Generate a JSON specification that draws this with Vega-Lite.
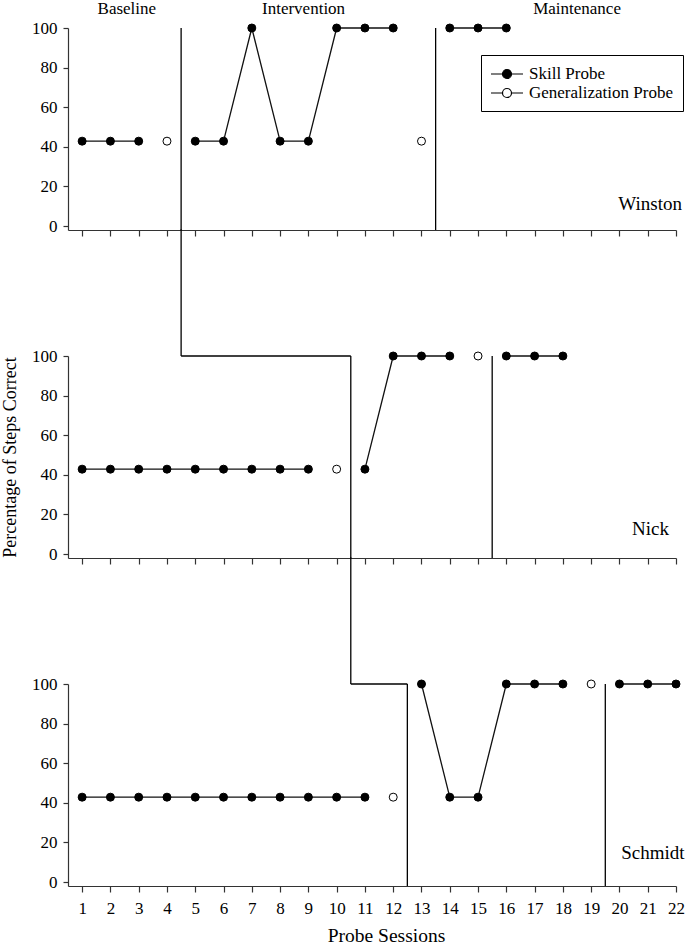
{
  "$schema": "https://vega.github.io/schema/vega-lite/v6.json",
  "background": "white",
  "padding": {"left": 1, "top": 0, "right": 0, "bottom": 2},
  "bounds": "flush",
  "spacing": 126,
  "config": {
    "font": "Liberation Serif",
    "view": {"stroke": null},
    "axis": {
      "grid": false,
      "domainColor": "#333333",
      "tickColor": "#333333",
      "domainWidth": 1.2,
      "tickWidth": 1.2,
      "labelColor": "black",
      "titleColor": "black",
      "labelFont": "Liberation Serif",
      "titleFont": "Liberation Serif",
      "labelFontSize": 17,
      "titleFontSize": 18,
      "titleFontWeight": "normal"
    },
    "axisX": {"labelOverlap": false, "labelFlush": false},
    "text": {"font": "Liberation Serif", "color": "black"}
  },
  "resolve": {"scale": {"fill": "independent"}, "legend": {"fill": "independent"}},
  "datasets": {
    "winston": [
      {"session": 1, "pct": 42.86, "type": "Skill Probe", "phase": "Baseline"},
      {"session": 2, "pct": 42.86, "type": "Skill Probe", "phase": "Baseline"},
      {"session": 3, "pct": 42.86, "type": "Skill Probe", "phase": "Baseline"},
      {"session": 4, "pct": 42.86, "type": "Generalization Probe", "phase": "Baseline"},
      {"session": 5, "pct": 42.86, "type": "Skill Probe", "phase": "Intervention"},
      {"session": 6, "pct": 42.86, "type": "Skill Probe", "phase": "Intervention"},
      {"session": 7, "pct": 100, "type": "Skill Probe", "phase": "Intervention"},
      {"session": 8, "pct": 42.86, "type": "Skill Probe", "phase": "Intervention"},
      {"session": 9, "pct": 42.86, "type": "Skill Probe", "phase": "Intervention"},
      {"session": 10, "pct": 100, "type": "Skill Probe", "phase": "Intervention"},
      {"session": 11, "pct": 100, "type": "Skill Probe", "phase": "Intervention"},
      {"session": 12, "pct": 100, "type": "Skill Probe", "phase": "Intervention"},
      {"session": 13, "pct": 42.86, "type": "Generalization Probe", "phase": "Intervention"},
      {"session": 14, "pct": 100, "type": "Skill Probe", "phase": "Maintenance"},
      {"session": 15, "pct": 100, "type": "Skill Probe", "phase": "Maintenance"},
      {"session": 16, "pct": 100, "type": "Skill Probe", "phase": "Maintenance"}
    ],
    "nick": [
      {"session": 1, "pct": 42.86, "type": "Skill Probe", "phase": "Baseline"},
      {"session": 2, "pct": 42.86, "type": "Skill Probe", "phase": "Baseline"},
      {"session": 3, "pct": 42.86, "type": "Skill Probe", "phase": "Baseline"},
      {"session": 4, "pct": 42.86, "type": "Skill Probe", "phase": "Baseline"},
      {"session": 5, "pct": 42.86, "type": "Skill Probe", "phase": "Baseline"},
      {"session": 6, "pct": 42.86, "type": "Skill Probe", "phase": "Baseline"},
      {"session": 7, "pct": 42.86, "type": "Skill Probe", "phase": "Baseline"},
      {"session": 8, "pct": 42.86, "type": "Skill Probe", "phase": "Baseline"},
      {"session": 9, "pct": 42.86, "type": "Skill Probe", "phase": "Baseline"},
      {"session": 10, "pct": 42.86, "type": "Generalization Probe", "phase": "Baseline"},
      {"session": 11, "pct": 42.86, "type": "Skill Probe", "phase": "Intervention"},
      {"session": 12, "pct": 100, "type": "Skill Probe", "phase": "Intervention"},
      {"session": 13, "pct": 100, "type": "Skill Probe", "phase": "Intervention"},
      {"session": 14, "pct": 100, "type": "Skill Probe", "phase": "Intervention"},
      {"session": 15, "pct": 100, "type": "Generalization Probe", "phase": "Intervention"},
      {"session": 16, "pct": 100, "type": "Skill Probe", "phase": "Maintenance"},
      {"session": 17, "pct": 100, "type": "Skill Probe", "phase": "Maintenance"},
      {"session": 18, "pct": 100, "type": "Skill Probe", "phase": "Maintenance"}
    ],
    "schmidt": [
      {"session": 1, "pct": 42.86, "type": "Skill Probe", "phase": "Baseline"},
      {"session": 2, "pct": 42.86, "type": "Skill Probe", "phase": "Baseline"},
      {"session": 3, "pct": 42.86, "type": "Skill Probe", "phase": "Baseline"},
      {"session": 4, "pct": 42.86, "type": "Skill Probe", "phase": "Baseline"},
      {"session": 5, "pct": 42.86, "type": "Skill Probe", "phase": "Baseline"},
      {"session": 6, "pct": 42.86, "type": "Skill Probe", "phase": "Baseline"},
      {"session": 7, "pct": 42.86, "type": "Skill Probe", "phase": "Baseline"},
      {"session": 8, "pct": 42.86, "type": "Skill Probe", "phase": "Baseline"},
      {"session": 9, "pct": 42.86, "type": "Skill Probe", "phase": "Baseline"},
      {"session": 10, "pct": 42.86, "type": "Skill Probe", "phase": "Baseline"},
      {"session": 11, "pct": 42.86, "type": "Skill Probe", "phase": "Baseline"},
      {"session": 12, "pct": 42.86, "type": "Generalization Probe", "phase": "Baseline"},
      {"session": 13, "pct": 100, "type": "Skill Probe", "phase": "Intervention"},
      {"session": 14, "pct": 42.86, "type": "Skill Probe", "phase": "Intervention"},
      {"session": 15, "pct": 42.86, "type": "Skill Probe", "phase": "Intervention"},
      {"session": 16, "pct": 100, "type": "Skill Probe", "phase": "Intervention"},
      {"session": 17, "pct": 100, "type": "Skill Probe", "phase": "Intervention"},
      {"session": 18, "pct": 100, "type": "Skill Probe", "phase": "Intervention"},
      {"session": 19, "pct": 100, "type": "Generalization Probe", "phase": "Intervention"},
      {"session": 20, "pct": 100, "type": "Skill Probe", "phase": "Maintenance"},
      {"session": 21, "pct": 100, "type": "Skill Probe", "phase": "Maintenance"},
      {"session": 22, "pct": 100, "type": "Skill Probe", "phase": "Maintenance"}
    ],
    "phase_lines": [
      {"panel": "Winston", "session": 4.5, "session2": 4.5, "pct": 100, "pct2": -2},
      {"panel": "Winston", "session": 13.5, "session2": 13.5, "pct": 100, "pct2": -2},
      {"panel": "Nick", "session": 4.5, "session2": 4.5, "pct": 164, "pct2": 100},
      {"panel": "Nick", "session": 4.5, "session2": 10.5, "pct": 100, "pct2": 100},
      {"panel": "Nick", "session": 10.5, "session2": 10.5, "pct": 100, "pct2": -2},
      {"panel": "Nick", "session": 15.5, "session2": 15.5, "pct": 100, "pct2": -2},
      {"panel": "Schmidt", "session": 10.5, "session2": 10.5, "pct": 164, "pct2": 100},
      {"panel": "Schmidt", "session": 10.5, "session2": 12.5, "pct": 100, "pct2": 100},
      {"panel": "Schmidt", "session": 12.5, "session2": 12.5, "pct": 100, "pct2": -2},
      {"panel": "Schmidt", "session": 19.5, "session2": 19.5, "pct": 100, "pct2": -2}
    ]
  },
  "vconcat": [
    {
      "width": 608,
      "height": 202,
      "layer": [
        {
          "data": {"name": "phase_lines"},
          "transform": [{"filter": "datum.panel === 'Winston'"}],
          "mark": {"type": "rule", "clip": false, "color": "black", "strokeWidth": 1.3},
          "encoding": {
            "x": {"field": "session", "type": "quantitative", "scale": {"domain": [0.5, 22], "nice": false, "zero": false},
                  "axis": {"values": [1,2,3,4,5,6,7,8,9,10,11,12,13,14,15,16,17,18,19,20,21,22], "labels": false, "title": null, "tickSize": 6}},
            "y": {"field": "pct", "type": "quantitative", "scale": {"domain": [-2, 100], "nice": false, "zero": false},
                  "axis": {"values": [0,20,40,60,80,100], "tickSize": 5, "labelPadding": 6, "title": null}},
            "x2": {"field": "session2"},
            "y2": {"field": "pct2"}
          }
        },
        {
          "data": {"name": "winston"},
          "transform": [{"filter": "datum.type === 'Skill Probe'"}],
          "mark": {"type": "line", "color": "#111111", "strokeWidth": 1.3},
          "encoding": {
            "x": {"field": "session", "type": "quantitative", "scale": {"domain": [0.5, 22], "nice": false, "zero": false},
                  "axis": {"values": [1,2,3,4,5,6,7,8,9,10,11,12,13,14,15,16,17,18,19,20,21,22], "labels": false, "title": null, "tickSize": 6}},
            "y": {"field": "pct", "type": "quantitative", "scale": {"domain": [-2, 100], "nice": false, "zero": false},
                  "axis": {"values": [0,20,40,60,80,100], "tickSize": 5, "labelPadding": 6, "title": null}},
            "detail": {"field": "phase"}
          }
        },
        {
          "data": {"name": "winston"},
          "mark": {"type": "circle", "size": 64, "stroke": "black", "strokeWidth": 1, "opacity": 1},
          "encoding": {
            "x": {"field": "session", "type": "quantitative", "scale": {"domain": [0.5, 22], "nice": false, "zero": false},
                  "axis": {"values": [1,2,3,4,5,6,7,8,9,10,11,12,13,14,15,16,17,18,19,20,21,22], "labels": false, "title": null, "tickSize": 6}},
            "y": {"field": "pct", "type": "quantitative", "scale": {"domain": [-2, 100], "nice": false, "zero": false},
                  "axis": {"values": [0,20,40,60,80,100], "tickSize": 5, "labelPadding": 6, "title": null}},
            "fill": {"field": "type", "type": "nominal",
                     "scale": {"domain": ["Skill Probe", "Generalization Probe"], "range": ["black", "white"]},
                     "legend": {"title": null, "orient": "none", "legendX": 413, "legendY": 27,
                                "symbolType": "M-2,0H-0.5625M0.5625,0H2M0.5625,0A0.5625,0.5625,0,1,1,-0.5625,0A0.5625,0.5625,0,1,1,0.5625,0Z",
                                "symbolSize": 256, "symbolStrokeColor": "black", "symbolStrokeWidth": 1.2,
                                "symbolOffset": 7,
                                "labelFontSize": 17, "labelFont": "Liberation Serif", "labelColor": "black",
                                "strokeColor": "black", "fillColor": "white", "padding": 10, "labelOffset": 13, "rowPadding": 2}}
          }
        },
        {
          "data": {"values": [{}]},
          "mark": {"type": "text", "text": "Baseline", "fontSize": 17, "align": "center", "baseline": "alphabetic", "clip": false},
          "encoding": {
            "x": {"datum": 2.58, "type": "quantitative", "scale": {"domain": [0.5, 22], "nice": false, "zero": false},
                  "axis": {"values": [1,2,3,4,5,6,7,8,9,10,11,12,13,14,15,16,17,18,19,20,21,22], "labels": false, "title": null, "tickSize": 6}},
            "y": {"datum": 107, "type": "quantitative", "scale": {"domain": [-2, 100], "nice": false, "zero": false},
                  "axis": {"values": [0,20,40,60,80,100], "tickSize": 5, "labelPadding": 6, "title": null}}
          }
        },
        {
          "data": {"values": [{}]},
          "mark": {"type": "text", "text": "Intervention", "fontSize": 17, "align": "center", "baseline": "alphabetic", "clip": false},
          "encoding": {
            "x": {"datum": 8.83, "type": "quantitative", "scale": {"domain": [0.5, 22], "nice": false, "zero": false},
                  "axis": {"values": [1,2,3,4,5,6,7,8,9,10,11,12,13,14,15,16,17,18,19,20,21,22], "labels": false, "title": null, "tickSize": 6}},
            "y": {"datum": 107, "type": "quantitative", "scale": {"domain": [-2, 100], "nice": false, "zero": false},
                  "axis": {"values": [0,20,40,60,80,100], "tickSize": 5, "labelPadding": 6, "title": null}}
          }
        },
        {
          "data": {"values": [{}]},
          "mark": {"type": "text", "text": "Maintenance", "fontSize": 17, "align": "center", "baseline": "alphabetic", "clip": false},
          "encoding": {
            "x": {"datum": 18.5, "type": "quantitative", "scale": {"domain": [0.5, 22], "nice": false, "zero": false},
                  "axis": {"values": [1,2,3,4,5,6,7,8,9,10,11,12,13,14,15,16,17,18,19,20,21,22], "labels": false, "title": null, "tickSize": 6}},
            "y": {"datum": 107, "type": "quantitative", "scale": {"domain": [-2, 100], "nice": false, "zero": false},
                  "axis": {"values": [0,20,40,60,80,100], "tickSize": 5, "labelPadding": 6, "title": null}}
          }
        },
        {
          "data": {"values": [{}]},
          "mark": {"type": "text", "text": "Winston", "fontSize": 19, "align": "right", "baseline": "alphabetic", "clip": false},
          "encoding": {
            "x": {"datum": 22.21, "type": "quantitative", "scale": {"domain": [0.5, 22], "nice": false, "zero": false},
                  "axis": {"values": [1,2,3,4,5,6,7,8,9,10,11,12,13,14,15,16,17,18,19,20,21,22], "labels": false, "title": null, "tickSize": 6}},
            "y": {"datum": 8.1, "type": "quantitative", "scale": {"domain": [-2, 100], "nice": false, "zero": false},
                  "axis": {"values": [0,20,40,60,80,100], "tickSize": 5, "labelPadding": 6, "title": null}}
          }
        }
      ]
    },
    {
      "width": 608,
      "height": 202,
      "layer": [
        {
          "data": {"name": "phase_lines"},
          "transform": [{"filter": "datum.panel === 'Nick'"}],
          "mark": {"type": "rule", "clip": false, "color": "black", "strokeWidth": 1.3},
          "encoding": {
            "x": {"field": "session", "type": "quantitative", "scale": {"domain": [0.5, 22], "nice": false, "zero": false},
                  "axis": {"values": [1,2,3,4,5,6,7,8,9,10,11,12,13,14,15,16,17,18,19,20,21,22], "labels": false, "title": null, "tickSize": 6}},
            "y": {"field": "pct", "type": "quantitative", "scale": {"domain": [-2, 100], "nice": false, "zero": false},
                  "axis": {"values": [0,20,40,60,80,100], "tickSize": 5, "labelPadding": 6, "title": "Percentage of Steps Correct", "titlePadding": 12}},
            "x2": {"field": "session2"},
            "y2": {"field": "pct2"}
          }
        },
        {
          "data": {"name": "nick"},
          "transform": [{"filter": "datum.type === 'Skill Probe'"}],
          "mark": {"type": "line", "color": "#111111", "strokeWidth": 1.3},
          "encoding": {
            "x": {"field": "session", "type": "quantitative", "scale": {"domain": [0.5, 22], "nice": false, "zero": false},
                  "axis": {"values": [1,2,3,4,5,6,7,8,9,10,11,12,13,14,15,16,17,18,19,20,21,22], "labels": false, "title": null, "tickSize": 6}},
            "y": {"field": "pct", "type": "quantitative", "scale": {"domain": [-2, 100], "nice": false, "zero": false},
                  "axis": {"values": [0,20,40,60,80,100], "tickSize": 5, "labelPadding": 6, "title": "Percentage of Steps Correct", "titlePadding": 12}},
            "detail": {"field": "phase"}
          }
        },
        {
          "data": {"name": "nick"},
          "mark": {"type": "circle", "size": 64, "stroke": "black", "strokeWidth": 1, "opacity": 1},
          "encoding": {
            "x": {"field": "session", "type": "quantitative", "scale": {"domain": [0.5, 22], "nice": false, "zero": false},
                  "axis": {"values": [1,2,3,4,5,6,7,8,9,10,11,12,13,14,15,16,17,18,19,20,21,22], "labels": false, "title": null, "tickSize": 6}},
            "y": {"field": "pct", "type": "quantitative", "scale": {"domain": [-2, 100], "nice": false, "zero": false},
                  "axis": {"values": [0,20,40,60,80,100], "tickSize": 5, "labelPadding": 6, "title": "Percentage of Steps Correct", "titlePadding": 12}},
            "fill": {"field": "type", "type": "nominal",
                     "scale": {"domain": ["Skill Probe", "Generalization Probe"], "range": ["black", "white"]},
                     "legend": null}
          }
        },
        {
          "data": {"values": [{}]},
          "mark": {"type": "text", "text": "Nick", "fontSize": 19, "align": "right", "baseline": "alphabetic", "clip": false},
          "encoding": {
            "x": {"datum": 21.75, "type": "quantitative", "scale": {"domain": [0.5, 22], "nice": false, "zero": false},
                  "axis": {"values": [1,2,3,4,5,6,7,8,9,10,11,12,13,14,15,16,17,18,19,20,21,22], "labels": false, "title": null, "tickSize": 6}},
            "y": {"datum": 9.6, "type": "quantitative", "scale": {"domain": [-2, 100], "nice": false, "zero": false},
                  "axis": {"values": [0,20,40,60,80,100], "tickSize": 5, "labelPadding": 6, "title": "Percentage of Steps Correct", "titlePadding": 12}}
          }
        }
      ]
    },
    {
      "width": 608,
      "height": 202,
      "layer": [
        {
          "data": {"name": "phase_lines"},
          "transform": [{"filter": "datum.panel === 'Schmidt'"}],
          "mark": {"type": "rule", "clip": false, "color": "black", "strokeWidth": 1.3},
          "encoding": {
            "x": {"field": "session", "type": "quantitative", "scale": {"domain": [0.5, 22], "nice": false, "zero": false},
                  "axis": {"values": [1,2,3,4,5,6,7,8,9,10,11,12,13,14,15,16,17,18,19,20,21,22], "labels": true, "labelPadding": 8, "labelFlush": false, "labelOverlap": false, "title": "Probe Sessions", "titleFontSize": 19.5, "titleX": 318, "titlePadding": 10, "tickSize": 6}},
            "y": {"field": "pct", "type": "quantitative", "scale": {"domain": [-2, 100], "nice": false, "zero": false},
                  "axis": {"values": [0,20,40,60,80,100], "tickSize": 5, "labelPadding": 6, "title": null}},
            "x2": {"field": "session2"},
            "y2": {"field": "pct2"}
          }
        },
        {
          "data": {"name": "schmidt"},
          "transform": [{"filter": "datum.type === 'Skill Probe'"}],
          "mark": {"type": "line", "color": "#111111", "strokeWidth": 1.3},
          "encoding": {
            "x": {"field": "session", "type": "quantitative", "scale": {"domain": [0.5, 22], "nice": false, "zero": false},
                  "axis": {"values": [1,2,3,4,5,6,7,8,9,10,11,12,13,14,15,16,17,18,19,20,21,22], "labels": true, "labelPadding": 8, "labelFlush": false, "labelOverlap": false, "title": "Probe Sessions", "titleFontSize": 19.5, "titleX": 318, "titlePadding": 10, "tickSize": 6}},
            "y": {"field": "pct", "type": "quantitative", "scale": {"domain": [-2, 100], "nice": false, "zero": false},
                  "axis": {"values": [0,20,40,60,80,100], "tickSize": 5, "labelPadding": 6, "title": null}},
            "detail": {"field": "phase"}
          }
        },
        {
          "data": {"name": "schmidt"},
          "mark": {"type": "circle", "size": 64, "stroke": "black", "strokeWidth": 1, "opacity": 1},
          "encoding": {
            "x": {"field": "session", "type": "quantitative", "scale": {"domain": [0.5, 22], "nice": false, "zero": false},
                  "axis": {"values": [1,2,3,4,5,6,7,8,9,10,11,12,13,14,15,16,17,18,19,20,21,22], "labels": true, "labelPadding": 8, "labelFlush": false, "labelOverlap": false, "title": "Probe Sessions", "titleFontSize": 19.5, "titleX": 318, "titlePadding": 10, "tickSize": 6}},
            "y": {"field": "pct", "type": "quantitative", "scale": {"domain": [-2, 100], "nice": false, "zero": false},
                  "axis": {"values": [0,20,40,60,80,100], "tickSize": 5, "labelPadding": 6, "title": null}},
            "fill": {"field": "type", "type": "nominal",
                     "scale": {"domain": ["Skill Probe", "Generalization Probe"], "range": ["black", "white"]},
                     "legend": null}
          }
        },
        {
          "data": {"values": [{}]},
          "mark": {"type": "text", "text": "Schmidt", "fontSize": 19, "align": "right", "baseline": "alphabetic", "clip": false},
          "encoding": {
            "x": {"datum": 22.3, "type": "quantitative", "scale": {"domain": [0.5, 22], "nice": false, "zero": false},
                  "axis": {"values": [1,2,3,4,5,6,7,8,9,10,11,12,13,14,15,16,17,18,19,20,21,22], "labels": true, "labelPadding": 8, "labelFlush": false, "labelOverlap": false, "title": "Probe Sessions", "titleFontSize": 19.5, "titleX": 318, "titlePadding": 10, "tickSize": 6}},
            "y": {"datum": 11.6, "type": "quantitative", "scale": {"domain": [-2, 100], "nice": false, "zero": false},
                  "axis": {"values": [0,20,40,60,80,100], "tickSize": 5, "labelPadding": 6, "title": null}}
          }
        }
      ]
    }
  ]
}
